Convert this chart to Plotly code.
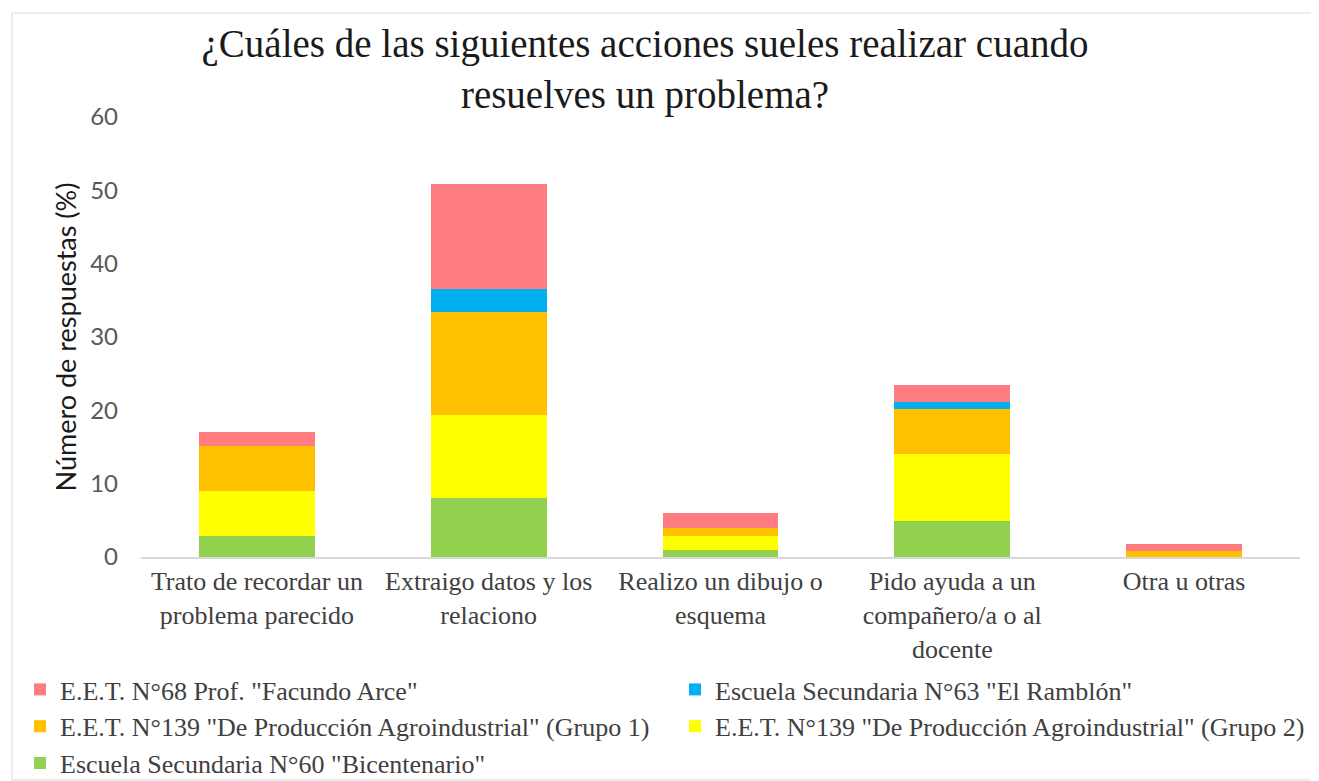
import plotly.graph_objects as go

categories = [
    "Trato de recordar un<br>problema parecido",
    "Extraigo datos y los<br>relaciono",
    "Realizo un dibujo o<br>esquema",
    "Pido ayuda a un<br>compañero/a o al<br>docente",
    "Otra u otras",
]
series_names = [
    'Escuela Secundaria N°60 "Bicentenario"',
    'E.E.T. N°139 "De Producción Agroindustrial" (Grupo 2)',
    'E.E.T. N°139 "De Producción Agroindustrial" (Grupo 1)',
    'Escuela Secundaria N°63 "El Ramblón"',
    'E.E.T. N°68 Prof. "Facundo Arce"',
]
green_vals = [2.8, 8.0, 0.9, 4.9, 0.0]
yellow_vals = [6.2, 11.4, 2.0, 9.1, 0.0]
orange_vals = [6.2, 14.0, 1.1, 6.2, 0.8]
blue_vals = [0.0, 3.1, 0.0, 1.0, 0.0]
red_vals = [1.9, 14.4, 2.0, 2.2, 1.0]
colors = ["#92D050", "#FFFF00", "#FFC000", "#00B0F0", "#FF7C80"]
legend_ids = ["legend", "legend2", "legend", "legend2", "legend"]

values = [green_vals, yellow_vals, orange_vals, blue_vals, red_vals]

fig = go.Figure()
for name, vals, col, lg in zip(series_names, values, colors, legend_ids):
    fig.add_trace(go.Bar(x=categories, y=vals, name=name, marker_color=col,
                         marker_line_width=0, legend=lg))

SERIF = "Liberation Serif, Times New Roman, serif"
SANS = "Lato, Open Sans, sans-serif"
W, H = 1311, 773
L, T, R, B = 133, 109, 19, 224
PW, PH = W - L - R, H - T - B


def px_x(x):
    return (x - L) / PW


def px_y(y):
    return (H - B - y) / PH


legend_common = dict(orientation="v", traceorder="reversed", xanchor="left",
                     yanchor="top", bgcolor="rgba(0,0,0,0)",
                     font=dict(family=SERIF, size=26, color="#404040"),
                     itemwidth=30, tracegroupgap=0)

fig.update_layout(
    width=W, height=H,
    barmode="stack", bargap=0.5,
    plot_bgcolor="white", paper_bgcolor="white",
    margin=dict(l=L, r=R, t=T, b=B, autoexpand=False),
    font=dict(family=SERIF, size=20, color="#404040"),
    title=dict(text="¿Cuáles de las siguientes acciones sueles realizar cuando<br>resuelves un problema?",
               x=(645 - 8) / W, xanchor="center", xref="container",
               y=1 - 49 / H, yanchor="top",
               font=dict(family=SERIF, size=39, color="#1a1a1a")),
    yaxis=dict(range=[0, 60], dtick=10, showgrid=False, zeroline=False,
               showline=False, ticks="", ticklabelstandoff=22,
               title=dict(text="Número de respuestas (%)",
                          font=dict(family=SANS, size=27, color="#1a1a1a"),
                          standoff=5),
               tickfont=dict(family=SANS, size=24, color="#595959")),
    xaxis=dict(showline=True, linecolor="#D9D9D9", linewidth=2, ticks="",
               tickfont=dict(family=SERIF, size=26, color="#404040")),
    legend=dict(x=px_x(12), y=px_y(658), **legend_common),
    legend2=dict(x=px_x(667), y=px_y(658), **legend_common),
    shapes=[dict(type="rect", xref="paper", yref="paper",
                 x0=px_x(4), x1=px_x(1310),
                 y0=px_y(772), y1=px_y(5),
                 line=dict(color="#D9D9D9", width=1), fillcolor="rgba(0,0,0,0)")],
)

fig.write_html("out.html")
